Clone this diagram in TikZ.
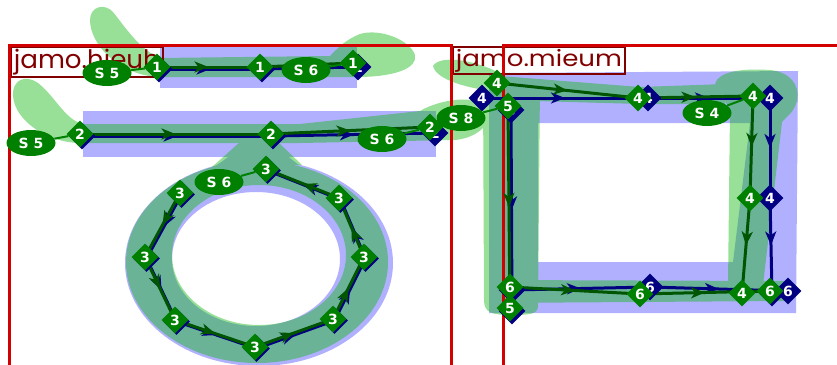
\documentclass[tikz,border=0pt]{standalone}
\usepackage{fontspec}
\setmainfont{DejaVu Sans}
\newfontfamily\lblfont{Poppins}
\usetikzlibrary{shapes.geometric,arrows.meta,decorations.markings}
\pgfdeclarelayer{shapes}
\pgfdeclarelayer{paths}
\pgfsetlayers{shapes,paths,main}
\definecolor{frameRed}{RGB}{210,0,0}
\definecolor{lblRed}{RGB}{128,0,0}
\definecolor{bbBlue}{RGB}{176,176,255}
\definecolor{shGreen}{RGB}{16,183,15}
\definecolor{ptGreen}{RGB}{0,128,0}
\definecolor{ptBlue}{RGB}{0,0,128}
\definecolor{lnGreen}{RGB}{0,85,0}
\tikzset{
  gpt/.style={diamond, fill=ptGreen, inner sep=0pt, minimum width=27pt, minimum height=27pt, text=white, font=\bfseries\fontsize{14}{14}\selectfont},
  bpt/.style={gpt, fill=ptBlue},
  slbl/.style={ellipse, fill=ptGreen, inner sep=0pt, minimum width=49pt, minimum height=26pt, text=white, font=\bfseries\fontsize{14}{14}\selectfont},
  gpath/.style={draw=lnGreen, line width=3pt, postaction={decorate}, decoration={markings, mark=at position 0.5 with {\arrow[lnGreen]{Stealth[length=14pt,width=11pt,inset=4pt]}}}},
  bpath/.style={draw=ptBlue, line width=3pt, postaction={decorate}, decoration={markings, mark=at position 0.5 with {\arrow[ptBlue]{Stealth[length=14pt,width=11pt,inset=4pt]}}}},
  sconn/.style={draw=ptGreen, line width=2pt},
  redframe/.style={draw=frameRed, line width=3pt},
  lblbox/.style={draw=lblRed, line width=1.8pt, text=lblRed, anchor=north west, inner xsep=3pt, inner ysep=2pt},
  bbfill/.style={fill=bbBlue},
  shfill/.style={fill=shGreen},
}
\begin{document}
\begin{tikzpicture}[x=1pt,y=-1pt]
\useasboundingbox (0,0) rectangle (837,364);

\begin{pgfonlayer}{shapes}
  % blue boxes
  \fill[bbfill] (160,44) rectangle (357,88);
  \fill[bbfill] (83,111) rectangle (436,157);
  \fill[bbfill] (238,150) -- (280,150) -- (305,170) -- (210,170) -- cycle;
  \fill[bbfill, even odd rule] (259,263) ellipse [x radius=134pt, y radius=103pt]
                               (256,259) ellipse [x radius=84pt, y radius=67pt];
  \fill[bbfill, even odd rule] (489,73) -- (798,71) -- (796,313) -- (489,313) -- cycle
                               (538,123) -- (750,123) -- (733,262) -- (538,262) -- cycle;
  % green shapes
  \begin{scope}[transparency group, opacity=0.43]
    % hieuh stroke 1
    \fill[shfill] (158,58) -- (330,56) .. controls (338,48) and (345,40) .. (360,34)
      .. controls (380,28) and (410,40) .. (415,55)
      .. controls (418,68) and (395,77) .. (357,77) -- (158,77) -- cycle;
    \fill[shfill] (160,77) .. controls (120,76) and (90,45) .. (90,20)
      .. controls (90,6) and (105,3) .. (113,12)
      .. controls (125,27) and (140,50) .. (160,58) -- cycle;
    % hieuh stroke 2
    \fill[shfill] (83,124) -- (300,124) -- (420,111) .. controls (440,99) and (478,94) .. (488,108)
      .. controls (494,122) and (478,138) .. (455,140) -- (300,143) -- (83,143) -- cycle;
    \fill[shfill] (83,143) .. controls (50,144) and (15,122) .. (13,96)
      .. controls (12,80) and (25,74) .. (38,83)
      .. controls (55,96) and (65,120) .. (83,124) -- cycle;
    % hieuh ring
    \fill[shfill] (240,142) -- (278,142) -- (302,165) -- (212,167) -- cycle;
    \fill[shfill, even odd rule] (257,262) ellipse [x radius=131pt, y radius=101pt]
                                 (259,255) ellipse [x radius=87pt, y radius=70pt];
    % mieum
    \fill[shfill] (433,66) .. controls (440,54) and (478,60) .. (505,76) -- (505,92)
      .. controls (470,90) and (436,80) .. (433,66) -- cycle;
    \fill[shfill] (483,82) -- (540,82) -- (538,306) .. controls (538,314) and (530,315) .. (512,315)
      .. controls (492,315) and (484,313) .. (484,300) -- cycle;
    \fill[shfill] (500,76) -- (640,87) -- (725,84) -- (725,104) -- (640,104) -- (500,100) -- cycle;
    \fill[shfill] (715,84) .. controls (718,72) and (740,68) .. (770,70)
      .. controls (790,72) and (800,85) .. (797,100)
      .. controls (795,112) and (785,118) .. (782,122) -- (763,285) -- (728,285) -- (730,110) -- cycle;
    \fill[shfill] (490,280) -- (785,281) .. controls (800,282) and (800,299) .. (785,301) -- (490,303) -- cycle;
  \end{scope}
  % labels
  \node[lblbox] (lh) at (10,46) {\resizebox*{146pt}{26pt}{\lblfont jamo.hieuh}};
  \node[lblbox] (lm) at (452,46) {\resizebox*{166pt}{23pt}{\lblfont jamo.mieum}};
  % frames
  \draw[redframe] (9,380) -- (9,45) -- (451,45) -- (451,380);
  \draw[redframe] (503,380) -- (503,45) -- (850,45);
\end{pgfonlayer}

% blue points
\node[bpt] (b1a) at (159,69) {1};
\node[bpt] (b1b) at (262,69) {1};
\node[bpt] (b1c) at (358,67) {1};
\node[bpt] (b2a) at (82,136) {2};
\node[bpt] (b2b) at (273,136) {2};
\node[bpt] (b2c) at (435,133) {2};
\foreach \n/\x/\y in {1/180/193,2/145/257,3/175/320,4/255/347,5/333/319,6/364/257,7/339/198,8/266/169}
  \node[bpt] (s\n) at (\x+1.5,\y+1.5) {3};
\node[bpt] (n4a) at (482,98) {4};
\node[bpt] (n4b) at (648,98) {4};
\node[bpt] (n4c) at (770,98) {4};
\node[bpt] (n4d) at (770,198) {4};
\node[bpt] (n4e) at (772,293) {4};
\node[bpt] (n5a) at (511,110) {5};
\node[bpt] (n5b) at (512,311) {5};
\node[bpt] (n6a) at (512,290) {6};
\node[bpt] (n6b) at (650,287) {6};
\node[bpt] (n6c) at (788,291) {6};

% green points
\node[gpt] (h1a) at (157,67) {1};
\node[gpt] (h1b) at (260,67) {1};
\node[gpt] (h1c) at (353,63) {1};
\node[gpt] (h2a) at (80,134) {2};
\node[gpt] (h2b) at (271,134) {2};
\node[gpt] (h2c) at (430,127) {2};
\foreach \n/\x/\y in {1/180/193,2/145/257,3/175/320,4/255/347,5/333/319,6/364/257,7/339/198,8/266/169}
  \node[gpt] (r\n) at (\x,\y) {3};
\node[gpt] (m4a) at (497,83) {4};
\node[gpt] (m4b) at (638,98) {4};
\node[gpt] (m4c) at (753,96) {4};
\node[gpt] (m4d) at (750,198) {4};
\node[gpt] (m4e) at (742,293) {4};
\node[gpt] (m6a) at (510,287) {6};
\node[gpt] (m6b) at (640,294) {6};
\node[gpt] (m6c) at (770,291) {6};
\node[gpt] (m5a) at (508,106) {5};
\node[gpt] (m5b) at (510,308) {5};

% stroke labels
\node[slbl] (e1) at (107,73) {S 5};
\node[slbl] (e2) at (306,70) {S 6};
\node[slbl] (e3) at (31,143) {S 5};
\node[slbl] (e4) at (382,139) {S 6};
\node[slbl] (e5) at (219,182) {S 6};
\node[slbl] (e6) at (461,118) {S 8};
\node[slbl] (e7) at (707,113) {S 4};

\begin{pgfonlayer}{paths}
  % blue
  \draw[bpath] (b1a.center) -- (b1b.center);
  \draw[bpath] (b1b.center) -- (b1c.center);
  \draw[bpath] (b2a.center) -- (b2b.center);
  \draw[bpath] (b2b.center) -- (b2c.center);
  \foreach \a/\b in {1/2,2/3,3/4,4/5,5/6,6/7,7/8}
    \draw[bpath] (s\a.center) -- (s\b.center);
  \draw[bpath] (n4a.center) -- (n4b.center);
  \draw[bpath] (n4b.center) -- (n4c.center);
  \draw[bpath] (n4c.center) -- (n4d.center);
  \draw[bpath] (n4d.center) -- (n4e.center);
  \draw[bpath] (n5a.center) -- (n5b.center);
  \draw[bpath] (n6a.center) -- (n6b.center);
  \draw[bpath] (n6b.center) -- (n6c.center);
  % green
  \draw[gpath] (h1a.center) -- (h1b.center);
  \draw[gpath] (h1b.center) -- (h1c.center);
  \draw[gpath] (h2a.center) -- (h2b.center);
  \draw[gpath] (h2b.center) -- (h2c.center);
  \foreach \a/\b in {1/2,2/3,3/4,4/5,5/6,6/7,7/8}
    \draw[gpath] (r\a.center) -- (r\b.center);
  \draw[gpath] (m4a.center) -- (m4b.center);
  \draw[gpath] (m4b.center) -- (m4c.center);
  \draw[gpath] (m4c.center) -- (m4d.center);
  \draw[gpath] (m4d.center) -- (m4e.center);
  \draw[gpath] (m5a.center) -- (m5b.center);
  \draw[gpath] (m6a.center) -- (m6b.center);
  \draw[gpath] (m6b.center) -- (m6c.center);
  % label connectors
  \draw[sconn] (e1) -- (h1a);
  \draw[sconn] (e2) -- (h1c);
  \draw[sconn] (e3) -- (h2a);
  \draw[sconn] (e4) -- (h2c);
  \draw[sconn] (e5) -- (r8);
  \draw[sconn] (e6) -- (m5a);
  \draw[sconn] (e7) -- (m4c);
\end{pgfonlayer}
\end{tikzpicture}
\end{document}
